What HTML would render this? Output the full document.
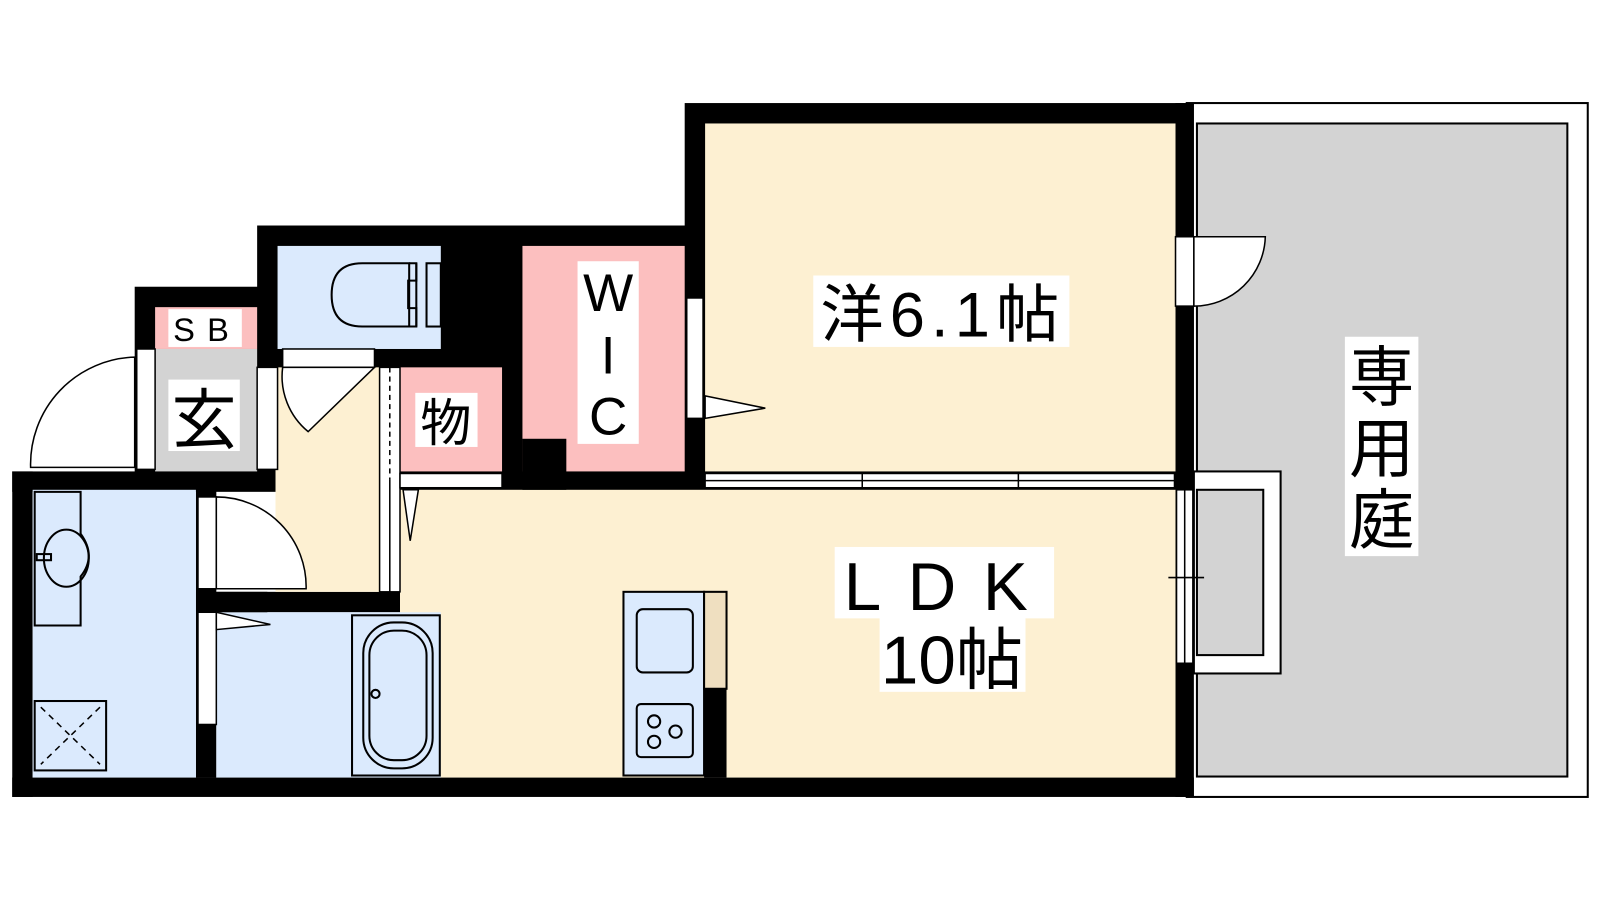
<!DOCTYPE html>
<html><head><meta charset="utf-8"><style>
html,body{margin:0;padding:0;background:#fff;}
svg{display:block;}
text{font-family:"Liberation Sans","Noto Sans CJK JP",sans-serif;fill:#000;}
</style></head><body>
<svg width="1600" height="900" viewBox="0 0 1568 882" xmlns="http://www.w3.org/2000/svg">
<rect x="1163" y="101" width="393" height="680" fill="#fff" stroke="#000" stroke-width="2"/>
<rect x="1173" y="121" width="363" height="640" fill="#d3d3d3" stroke="#000" stroke-width="2"/>
<rect x="1170" y="462" width="85" height="198" fill="#fff" stroke="#000" stroke-width="2"/>
<rect x="1173" y="480" width="65" height="162" fill="#d3d3d3" stroke="#000" stroke-width="2"/>

<rect x="671" y="101" width="499" height="380" fill="#000"/>
<rect x="252" y="221" width="440" height="260" fill="#000"/>
<rect x="132" y="281" width="140" height="200" fill="#000"/>
<rect x="12" y="462" width="260" height="20" fill="#000"/>
<rect x="12" y="462" width="20" height="319" fill="#000"/>
<rect x="12" y="762" width="1158" height="19" fill="#000"/>
<rect x="1152" y="101" width="18" height="680" fill="#000"/>
<rect x="192" y="480" width="20" height="282" fill="#000"/>
<rect x="192" y="580" width="260" height="20" fill="#000"/>
<rect x="432" y="580" width="20" height="182" fill="#000"/>

<rect x="691" y="121" width="461" height="341" fill="#fdf0d2"/>
<rect x="392" y="480" width="760" height="282" fill="#fdf0d2"/>
<rect x="270" y="360" width="122" height="220" fill="#fdf0d2"/>
<rect x="512" y="241" width="159" height="221" fill="#fcbfbf"/>
<rect x="512" y="430" width="43" height="50" fill="#000"/>
<rect x="392" y="360" width="100" height="102" fill="#fcbfbf"/>
<rect x="272" y="241" width="160" height="101" fill="#dbeafd"/>
<rect x="152" y="301" width="100" height="41" fill="#fcbfbf"/>
<rect x="152" y="342" width="100" height="120" fill="#d3d3d3"/>
<rect x="32" y="480" width="160" height="282" fill="#dbeafd"/>
<rect x="212" y="600" width="220" height="162" fill="#dbeafd"/>

<g fill="#fff" stroke="#000" stroke-width="1.5">
<rect x="1152" y="232" width="18" height="68"/>
<path d="M1170,232 H1240 A70,70 0 0 1 1170,300 Z"/>
<rect x="1153" y="480" width="16" height="170"/>
<line x1="1161" y1="480" x2="1161" y2="650"/>
<rect x="673" y="292" width="16" height="118"/>
<path d="M691,388 L750,400 L691,410 Z"/>
<rect x="691" y="464" width="460" height="14"/>
<line x1="845" y1="464" x2="845" y2="478"/><line x1="998" y1="464" x2="998" y2="478"/>
<line x1="691" y1="471" x2="1151" y2="471"/>
<rect x="277" y="342" width="90" height="18"/>
<path d="M277,360 A70,70 0 0 0 302,423 L367,360 Z"/>
<rect x="372" y="360" width="20" height="220"/>
<line x1="382" y1="360" x2="382" y2="470" stroke-dasharray="5,4"/>
<line x1="382" y1="470" x2="382" y2="580"/>
<rect x="392" y="464" width="100" height="14"/>
<path d="M395,480 L410,480 L402,530 Z"/>
<rect x="252" y="360" width="20" height="100"/>
<rect x="134" y="342" width="18" height="118"/>
<path d="M132,350 A105,105 0 0 0 30,458 H132 Z"/>
<rect x="194" y="487" width="18" height="90"/>
<path d="M212,487 A88,88 0 0 1 300,577 H212 Z"/>
<rect x="194" y="600" width="18" height="110"/>
<path d="M212,600 L265,612 L212,617 Z"/>
</g>
<rect x="212" y="580" width="50" height="20" fill="#000"/>

<g fill="none" stroke="#000" stroke-width="2">
<path d="M355,258 H401 V320 H355 Q325,320 325,289 Q325,258 355,258 Z"/>
<path d="M401,258 H408 V275 H400 V302 H408 V320 H401"/>
<line x1="408" y1="258" x2="408" y2="320"/>
<rect x="418" y="258" width="14" height="62"/>
<rect x="345" y="603" width="86" height="157"/>
<rect x="356" y="610" width="68" height="143" rx="30"/>
<rect x="362" y="618" width="56" height="127" rx="24"/>
<circle cx="368" cy="680" r="4"/>
<path d="M34,482 H79 V523 Q95,545 79,565 V613 H34 Z"/>
<ellipse cx="65" cy="547" rx="22" ry="28"/>
<rect x="36" y="543" width="14" height="6"/>
<rect x="34" y="687" width="70" height="68"/>
<path d="M40,693 L98,749 M98,693 L40,749" stroke-dasharray="6,5" stroke-width="1.5"/>
<rect x="611" y="580" width="79" height="180" fill="#dbeafd"/>
<rect x="624" y="597" width="55" height="62" rx="6"/>
<rect x="624" y="690" width="55" height="52" rx="4"/>
<circle cx="641" cy="707" r="6"/><circle cx="641" cy="727" r="6"/><circle cx="662" cy="717" r="6"/>
<rect x="690" y="580" width="22" height="95" fill="#efdfc0"/>
</g>
<rect x="690" y="675" width="22" height="87" fill="#000"/>
<line x1="1145" y1="566" x2="1180" y2="566" stroke="#000" stroke-width="1.5"/>

<rect x="797" y="270" width="251" height="70" fill="#fff"/>
<text x="924" y="330" font-size="62" text-anchor="middle" letter-spacing="6">洋6.1帖</text>
<rect x="818" y="536" width="215" height="70" fill="#fff"/>
<text x="930" y="598" font-size="66" text-anchor="middle" letter-spacing="26">LDK</text>
<rect x="862" y="605" width="143" height="73" fill="#fff"/>
<text x="933" y="670" font-size="66" text-anchor="middle">10帖</text>
<rect x="1318" y="330" width="72" height="215" fill="#fff"/>
<text x="1354" y="392" font-size="64" text-anchor="middle">専</text>
<text x="1354" y="462" font-size="64" text-anchor="middle">用</text>
<text x="1354" y="532" font-size="64" text-anchor="middle">庭</text>
<rect x="566" y="256" width="60" height="179" fill="#fff"/>
<text x="596" y="305" font-size="52" text-anchor="middle">W</text>
<text x="596" y="366" font-size="52" text-anchor="middle">I</text>
<text x="596" y="426" font-size="52" text-anchor="middle">C</text>
<rect x="407" y="385" width="61" height="53" fill="#fff"/>
<text x="437" y="432" font-size="50" text-anchor="middle">物</text>
<rect x="165" y="372" width="70" height="70" fill="#fff"/>
<text x="200" y="434" font-size="64" text-anchor="middle">玄</text>
<rect x="165" y="303" width="72" height="37" fill="#fff"/>
<text x="203" y="334" font-size="32" text-anchor="middle" letter-spacing="12">SB</text>
</svg>
</body></html>
